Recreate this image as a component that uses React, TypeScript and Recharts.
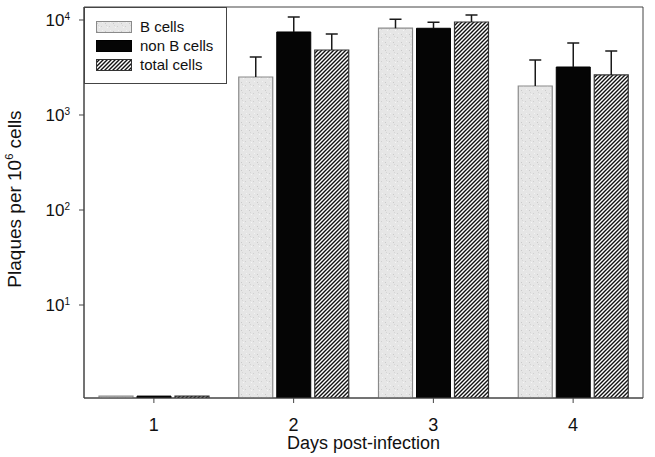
import { BarChart, Bar, XAxis, YAxis, CartesianGrid, Legend } from 'recharts';

const days = ['1', '2', '3', '4'];
const bCells = [1.1, 2510, 8200, 2020];
const nonBCells = [1.1, 7480, 8180, 3200];
const totalCells = [1.1, 4830, 9530, 2640];
// length of the upper whisker above each bar
const bCellsErr = [0, 1560, 2000, 1770];
const nonBCellsErr = [0, 3270, 1280, 2530];
const totalCellsErr = [0, 2300, 1760, 2080];
const yTicks = [10, 100, 1000, 10000];

const FONT = '"Liberation Sans", Arial, sans-serif';

const data = days.map((day, i) => ({
  day,
  b: bCells[i],
  bErr: bCellsErr[i],
  nonB: nonBCells[i],
  nonBErr: nonBCellsErr[i],
  total: totalCells[i],
  totalErr: totalCellsErr[i],
}));

const legendItems = [
  { label: 'B cells', fill: 'url(#stipple)', stroke: '#8a8a8a' },
  { label: 'non B cells', fill: '#050505', stroke: '#000' },
  { label: 'total cells', fill: 'url(#hatch)', stroke: '#333' },
];

const Whisker = (props: any) => {
  const { x, y, width, height } = props;
  if (!height || height <= 0) return null;
  const cx = x + width / 2;
  return (
    <g stroke="#1a1a1a" strokeWidth={1.5}>
      <line x1={cx} y1={y + height} x2={cx} y2={y} />
      <line x1={cx - 6} y1={y} x2={cx + 6} y2={y} />
    </g>
  );
};

const PowerTick = ({ x, y, payload }: any) => {
  const exp = Math.round(Math.log10(payload.value));
  return (
    <text x={x} y={y} dy={6} textAnchor="end" fontSize={17} fill="#111" fontFamily={FONT}>
      10
      <tspan dy={-6} fontSize={10}>{exp}</tspan>
    </text>
  );
};

const YLabel = () => (
  <text
    transform="translate(21,199) rotate(-90)"
    textAnchor="middle"
    fontSize={19}
    fill="#111"
    fontFamily={FONT}
  >
    Plaques per 10
    <tspan dy={-8} fontSize={11}>6</tspan>
    <tspan dy={8}> cells</tspan>
  </text>
);

const LegendBox = () => (
  <div
    style={{
      position: 'relative',
      width: 143,
      height: 77,
      border: '1px solid #444',
      boxSizing: 'border-box',
      background: '#fff',
      fontFamily: FONT,
      fontSize: 15,
      color: '#111',
    }}
  >
    {legendItems.map((item, i) => (
      <div
        key={item.label}
        style={{ position: 'absolute', left: 11, top: 13 + i * 19, height: 12, display: 'flex', alignItems: 'center' }}
      >
        <svg width={36} height={12} style={{ display: 'block' }}>
          <rect x={0.5} y={0.5} width={35} height={11} fill={item.fill} stroke={item.stroke} />
        </svg>
        <span style={{ marginLeft: 8, lineHeight: '12px' }}>{item.label}</span>
      </div>
    ))}
  </div>
);

export default function App() {
  return (
    <div style={{ position: 'absolute', left: 0, top: 0, background: '#fff' }}>
      <BarChart
        width={655}
        height={457}
        data={data}
        margin={{ top: 7, right: 12, left: 14, bottom: 8 }}
        barSize={34}
        barGap={4}
      >
        <defs>
          <pattern id="stipple" width={8} height={8} patternUnits="userSpaceOnUse">
            <rect width={8} height={8} fill="#e6e6e6" />
            <rect x={1} y={2} width={1} height={1} fill="#c9c9c9" />
            <rect x={5} y={5} width={1} height={1} fill="#d0d0d0" />
            <rect x={3} y={6} width={1} height={1} fill="#f6f6f6" />
            <rect x={6} y={1} width={1} height={1} fill="#f3f3f3" />
            <rect x={2} y={4} width={1} height={1} fill="#d6d6d6" />
          </pattern>
          <pattern id="hatch" width={4} height={4} patternUnits="userSpaceOnUse">
            <rect width={4} height={4} fill="#fff" />
            <path d="M-1,1 l2,-2 M0,4 l4,-4 M3,5 l2,-2" stroke="#111" strokeWidth={1.4} />
          </pattern>
        </defs>
        <CartesianGrid
          stroke="#444"
          horizontalCoordinatesGenerator={({ offset }: any) => [offset.top, offset.top + offset.height]}
          verticalCoordinatesGenerator={({ offset }: any) => [offset.left, offset.left + offset.width]}
        />
        <XAxis
          dataKey="day"
          height={51}
          tickSize={5}
          tickMargin={15}
          stroke="#444"
          tick={{ fill: '#111', fontSize: 18, fontFamily: FONT }}
          label={{ value: 'Days post-infection', position: 'insideBottom', offset: 0, fill: '#111', fontSize: 18, fontFamily: FONT }}
        />
        <YAxis
          scale="log"
          domain={[1.05, 13700]}
          allowDataOverflow
          ticks={yTicks}
          width={70}
          tickSize={5}
          tickMargin={9}
          stroke="#444"
          tick={<PowerTick />}
          label={<YLabel />}
        />
        <Legend
          layout="vertical"
          align="center"
          verticalAlign="middle"
          wrapperStyle={{ left: 84, top: 7, width: 'auto' }}
          content={() => <LegendBox />}
        />
        <Bar dataKey="b" stackId="b" fill="url(#stipple)" stroke="#8a8a8a" strokeWidth={1.2} isAnimationActive={false} />
        <Bar dataKey="bErr" stackId="b" shape={<Whisker />} isAnimationActive={false} />
        <Bar dataKey="nonB" stackId="n" fill="#050505" stroke="#000" isAnimationActive={false} />
        <Bar dataKey="nonBErr" stackId="n" shape={<Whisker />} isAnimationActive={false} />
        <Bar dataKey="total" stackId="t" fill="url(#hatch)" stroke="#333" strokeWidth={1.2} isAnimationActive={false} />
        <Bar dataKey="totalErr" stackId="t" shape={<Whisker />} isAnimationActive={false} />
      </BarChart>
    </div>
  );
}
